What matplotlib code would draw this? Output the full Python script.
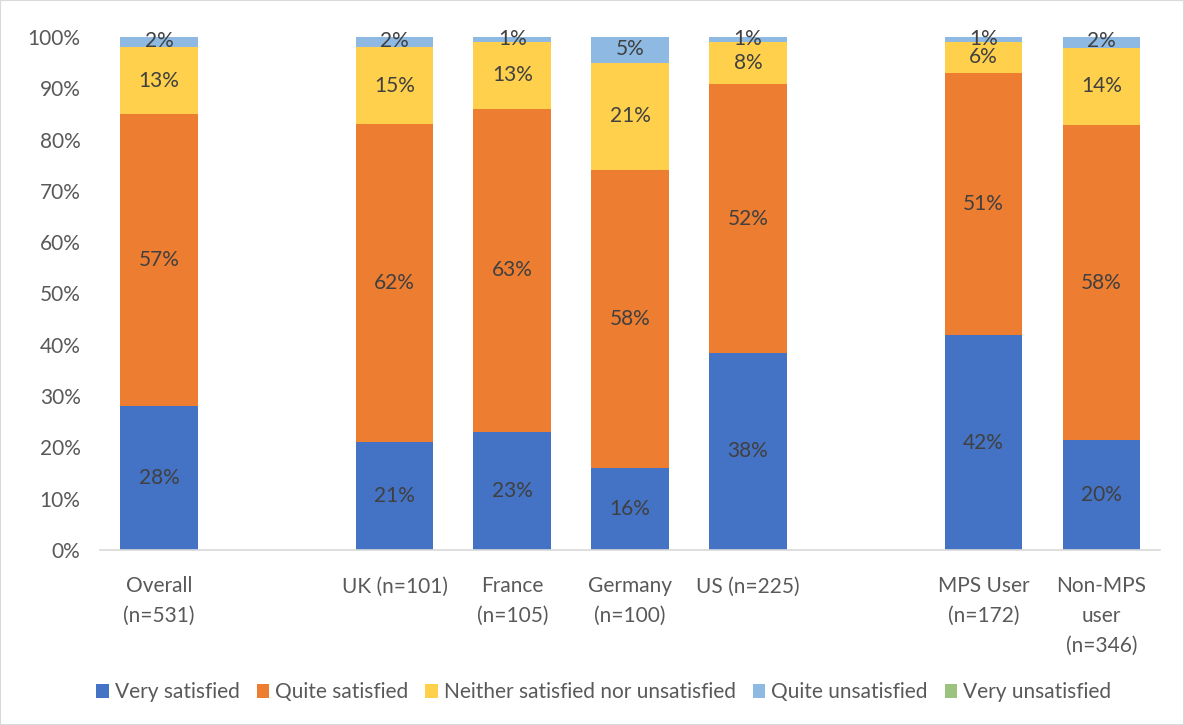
import numpy as np
import matplotlib.pyplot as plt
from matplotlib.ticker import PercentFormatter

# categories (empty strings are gaps between groups)
categories = ['Overall\n(n=531)', '', 'UK (n=101)', 'France\n(n=105)', 'Germany\n(n=100)',
              'US (n=225)', '', 'MPS User\n(n=172)', 'Non-MPS\nuser\n(n=346)']

series_names = ['Very satisfied', 'Quite satisfied', 'Neither satisfied nor unsatisfied',
                'Quite unsatisfied', 'Very unsatisfied']
colors = ['#4472C4', '#ED7D31', '#FFD04C', '#8DB9E2', '#9BC37F']

# bar heights (%), None = gap
very_sat = [28, None, 21, 23, 16, 38.4, None, 41.9, 21.4]
quite_sat = [57, None, 62, 63, 58, 52.4, None, 51.1, 61.4]
neither = [13, None, 15, 13, 21, 8.2, None, 6.0, 15.1]
quite_unsat = [2, None, 2, 1, 5, 1.0, None, 1.0, 2.1]
very_unsat = [0, None, 0, 0, 0, 0, None, 0, 0]

# data labels as printed on the chart
lab_very_sat = [28, None, 21, 23, 16, 38, None, 42, 20]
lab_quite_sat = [57, None, 62, 63, 58, 52, None, 51, 58]
lab_neither = [13, None, 15, 13, 21, 8, None, 6, 14]
lab_quite_unsat = [2, None, 2, 1, 5, 1, None, 1, 2]

series = [very_sat, quite_sat, neither, quite_unsat, very_unsat]
labels = [lab_very_sat, lab_quite_sat, lab_neither, lab_quite_unsat, None]

plt.rcParams['font.family'] = ['Lato', 'DejaVu Sans']

fig = plt.figure(figsize=(11.84, 7.25), dpi=100)
ax = fig.add_axes([0.0845, 0.2414, 0.8955, 0.7076])

x = np.arange(len(categories))
bottom = np.zeros(len(categories))
for name, vals, col, labs in zip(series_names, series, colors, labels):
    v = np.array([np.nan if a is None else a for a in vals], dtype=float)
    mask = ~np.isnan(v)
    ax.bar(x[mask], v[mask], bottom=bottom[mask], width=0.66, color=col,
           label=name, edgecolor='none')
    if labs is not None:
        for i in np.where(mask)[0]:
            if v[i] <= 0:
                continue
            yc = bottom[i] + v[i] / 2
            if name == 'Quite unsatisfied':
                yc = bottom[i] + v[i] / 2 + 0.2
            ax.text(x[i], yc, f'{labs[i]}%', ha='center', va='center',
                    fontsize=15, color='#404040')
    bottom[mask] += v[mask]

ax.set_ylim(0, 100)
ax.set_xlim(-0.5, 8.5)
ax.yaxis.set_major_formatter(PercentFormatter(decimals=0))
ax.set_yticks(np.arange(0, 101, 10))
ax.set_xticks(x)
ax.set_xticklabels(categories, linespacing=1.6)
ax.tick_params(axis='both', length=0, labelsize=15, labelcolor='#595959')
ax.tick_params(axis='x', pad=19)
ax.tick_params(axis='y', pad=14)
for s in ['top', 'right', 'left']:
    ax.spines[s].set_visible(False)
ax.spines['bottom'].set_color('#D9D9D9')
ax.spines['bottom'].set_linewidth(1.2)

fig.legend(loc='center', bbox_to_anchor=(0.51, 0.045), ncol=5, frameon=False,
           fontsize=15, handlelength=0.6, handleheight=0.6, handletextpad=0.3,
           columnspacing=0.8, labelcolor='#595959')

fig.patches.append(plt.Rectangle((0, 0), 1, 1, transform=fig.transFigure,
                                 fill=False, edgecolor='#D9D9D9', linewidth=1.5))

plt.savefig('out.png', dpi=100)
plt.close()
